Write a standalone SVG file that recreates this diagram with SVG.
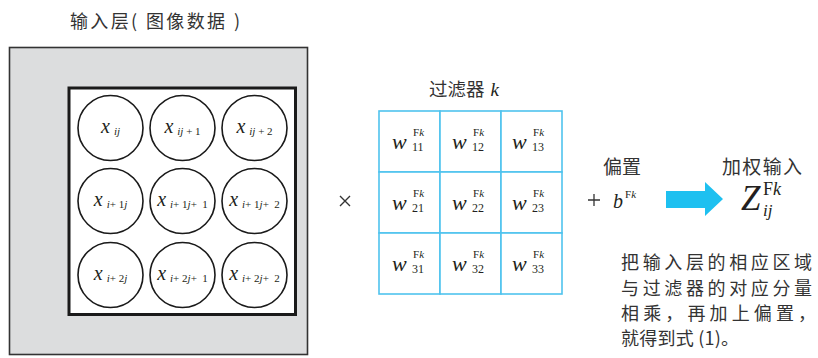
<svg xmlns="http://www.w3.org/2000/svg" width="818" height="358" viewBox="0 0 818 358">
<style>
.cjk{font-family:"Noto Sans CJK SC","Noto Sans",sans-serif;fill:#333;}
.m{font-family:"Liberation Serif","DejaVu Serif",serif;font-style:italic;fill:#231f20;}
.up{font-family:"Liberation Serif","DejaVu Serif",serif;font-style:normal;fill:#231f20;}
.cir{fill:#fff;stroke:#1a1a1a;stroke-width:1.6;}
.cell{fill:#fff;stroke:#4fc3ee;stroke-width:1.6;}
.xl{font-size:20px;text-anchor:middle;white-space:pre;}
.sub{font-size:11px;font-style:italic;}
.n{font-style:normal;}
.note{font-size:18px;}
</style>
<text class="cjk" x="70" y="28" font-size="18" textLength="170" lengthAdjust="spacing">输入层( 图像数据 )</text>
<g id="input-layer">
<rect x="9.5" y="47.5" width="298" height="307" fill="#dcddde" stroke="#333" stroke-width="1.6"/>
<rect x="69" y="88" width="226.5" height="226.5" fill="#fff" stroke="#1a1a1a" stroke-width="3"/>
</g>
<g id="cells">
<g id="x11"><circle class="cir" cx="110.5" cy="128" r="32.5"/><text class="m xl" x="110.5" y="133">x<tspan class="sub" dx="4" dy="2">ij</tspan></text></g>
<g id="x12"><circle class="cir" cx="182.5" cy="128" r="32.5"/><text class="m xl" x="182.5" y="133">x<tspan class="sub" dx="4" dy="2">ij<tspan class="n"> + 1</tspan></tspan></text></g>
<g id="x13"><circle class="cir" cx="254.5" cy="128" r="32.5"/><text class="m xl" x="254.5" y="133">x<tspan class="sub" dx="4" dy="2">ij<tspan class="n"> + 2</tspan></tspan></text></g>
<g id="x21"><circle class="cir" cx="110.5" cy="201" r="32.5"/><text class="m xl" x="110.5" y="206">x<tspan class="sub" dx="4" dy="2">i<tspan class="n">+ 1</tspan>j</tspan></text></g>
<g id="x22"><circle class="cir" cx="182.5" cy="201" r="32.5"/><text class="m xl" x="182.5" y="206">x<tspan class="sub" dx="4" dy="2">i<tspan class="n">+ 1</tspan>j<tspan class="n">+  1</tspan></tspan></text></g>
<g id="x23"><circle class="cir" cx="254.5" cy="201" r="32.5"/><text class="m xl" x="254.5" y="206">x<tspan class="sub" dx="4" dy="2">i<tspan class="n">+ 1</tspan>j<tspan class="n">+  2</tspan></tspan></text></g>
<g id="x31"><circle class="cir" cx="110.5" cy="275" r="32.5"/><text class="m xl" x="110.5" y="280">x<tspan class="sub" dx="4" dy="2">i<tspan class="n">+ 2</tspan>j</tspan></text></g>
<g id="x32"><circle class="cir" cx="182.5" cy="275" r="32.5"/><text class="m xl" x="182.5" y="280">x<tspan class="sub" dx="4" dy="2">i<tspan class="n">+ 2</tspan>j<tspan class="n">+  1</tspan></tspan></text></g>
<g id="x33"><circle class="cir" cx="254.5" cy="275" r="32.5"/><text class="m xl" x="254.5" y="280">x<tspan class="sub" dx="4" dy="2">i<tspan class="n">+ 2</tspan>j<tspan class="n">+  2</tspan></tspan></text></g>
</g>
<g id="times"><path d="M340 196 L350 206 M350 196 L340 206" stroke="#333" stroke-width="1.4"/></g>
<g id="filter">
<text x="429" y="96" font-size="18.5"><tspan class="cjk">过滤器</tspan><tspan class="m" dx="6" font-size="19">k</tspan></text>
<rect class="cell" x="379" y="111" width="61" height="61"/>
<rect class="cell" x="440" y="111" width="61" height="61"/>
<rect class="cell" x="501" y="111" width="61" height="61"/>
<rect class="cell" x="379" y="172" width="61" height="61"/>
<rect class="cell" x="440" y="172" width="61" height="61"/>
<rect class="cell" x="501" y="172" width="61" height="61"/>
<rect class="cell" x="379" y="233" width="61" height="61"/>
<rect class="cell" x="440" y="233" width="61" height="61"/>
<rect class="cell" x="501" y="233" width="61" height="61"/>
<g font-size="22">
<text class="m" x="392" y="149">w</text><text class="up" x="413" y="136" font-size="11">F<tspan font-style="italic">k</tspan></text><text class="up" x="412" y="151" font-size="12">11</text>
<text class="m" x="452" y="149">w</text><text class="up" x="473" y="136" font-size="11">F<tspan font-style="italic">k</tspan></text><text class="up" x="472" y="151" font-size="12">12</text>
<text class="m" x="512" y="149">w</text><text class="up" x="533" y="136" font-size="11">F<tspan font-style="italic">k</tspan></text><text class="up" x="532" y="151" font-size="12">13</text>
<text class="m" x="392" y="210">w</text><text class="up" x="413" y="197" font-size="11">F<tspan font-style="italic">k</tspan></text><text class="up" x="412" y="212" font-size="12">21</text>
<text class="m" x="452" y="210">w</text><text class="up" x="473" y="197" font-size="11">F<tspan font-style="italic">k</tspan></text><text class="up" x="472" y="212" font-size="12">22</text>
<text class="m" x="512" y="210">w</text><text class="up" x="533" y="197" font-size="11">F<tspan font-style="italic">k</tspan></text><text class="up" x="532" y="212" font-size="12">23</text>
<text class="m" x="392" y="271">w</text><text class="up" x="413" y="258" font-size="11">F<tspan font-style="italic">k</tspan></text><text class="up" x="412" y="273" font-size="12">31</text>
<text class="m" x="452" y="271">w</text><text class="up" x="473" y="258" font-size="11">F<tspan font-style="italic">k</tspan></text><text class="up" x="472" y="273" font-size="12">32</text>
<text class="m" x="512" y="271">w</text><text class="up" x="533" y="258" font-size="11">F<tspan font-style="italic">k</tspan></text><text class="up" x="532" y="273" font-size="12">33</text>
</g>
</g>
<g id="bias">
<text class="cjk" x="603" y="174" font-size="19">偏置</text>
<path d="M588 200 H600 M594 194 V206" stroke="#333" stroke-width="1.3"/>
<text class="m" x="613" y="208" font-size="20">b</text>
<text class="up" x="625" y="198" font-size="11">F<tspan font-style="italic">k</tspan></text>
</g>
<g id="connectors">
<polygon points="666,191 705,191 705,182 723,199 705,216 705,208 666,208" fill="#1ec0f0"/>
</g>
<g id="output">
<text class="cjk" x="722" y="174" font-size="19" textLength="80" lengthAdjust="spacing">加权输入</text>
<text class="m" x="741" y="210" font-size="35">Z</text>
<text class="up" x="763" y="195" font-size="18">F<tspan font-style="italic">k</tspan></text>
<text class="m" x="763" y="216" font-size="17">ij</text>
</g>
<g id="note">
<text class="cjk note" x="621" y="269" textLength="191" lengthAdjust="spacing">把输入层的相应区域</text>
<text class="cjk note" x="621" y="295" textLength="191" lengthAdjust="spacing">与过滤器的对应分量</text>
<text class="cjk note" x="621" y="320" textLength="195" lengthAdjust="spacing">相乘，再加上偏置，</text>
<text class="cjk note" x="621" y="345" textLength="118" lengthAdjust="spacing">就得到式 (1)。</text>
</g>
</svg>
